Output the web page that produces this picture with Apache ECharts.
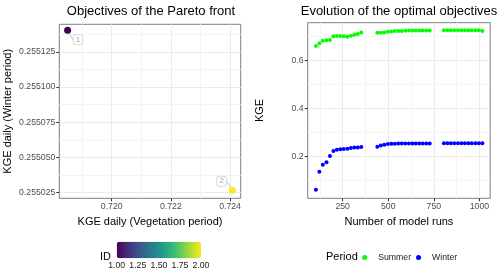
<!DOCTYPE html>
<html><head><meta charset="utf-8">
<script src="https://cdn.jsdelivr.net/npm/echarts@6/dist/echarts.min.js"></script>
<style>html,body{margin:0;padding:0;background:#fff}#c{width:500px;height:275px}</style>
</head><body><div id="c"></div>
<script>
// ---- Left panel: objectives of the Pareto front ----
const paretoIds = [1, 2];
const vegKGE = [0.71851, 0.72408];
const winterKGE = [0.2551402, 0.2550267];
const paretoXTicks = [0.720, 0.722, 0.724];
const paretoXMinor = [0.719, 0.721, 0.723];
const paretoYTicks = [0.255025, 0.255050, 0.255075, 0.255100, 0.255125];
const paretoYMinor = [0.2550375, 0.2550625, 0.2550875, 0.2551125, 0.2551375];
const idTicks = [1.00, 1.25, 1.50, 1.75, 2.00];
const viridis = ['#440154','#482878','#3E4A89','#31688E','#26828E','#1F9E89','#35B779','#6DCD59','#B4DE2C','#FDE725'];

// ---- Right panel: evolution of the optimal objectives ----
const modelRuns = [103,122,141,161,180,199,218,237,256,276,295,314,333,352,
  440,459,478,498,517,536,555,574,593,613,632,651,670,689,708,727,
  805,824,843,862,882,901,920,939,958,978,997,1016];
const summerKGE = [0.660,0.672,0.682,0.684,0.685,0.701,0.702,0.702,0.701,0.699,0.703,0.707,0.710,0.716,
  0.715,0.715,0.716,0.719,0.720,0.722,0.722,0.723,0.724,0.725,0.725,0.725,0.725,0.725,0.725,0.725,
  0.726,0.726,0.726,0.726,0.726,0.726,0.726,0.726,0.726,0.726,0.726,0.722];
const winterEvoKGE = [0.063,0.137,0.166,0.177,0.203,0.224,0.229,0.231,0.232,0.233,0.236,0.238,0.238,0.240,
  0.241,0.246,0.250,0.253,0.254,0.254,0.255,0.255,0.255,0.255,0.255,0.255,0.255,0.255,0.255,0.255,
  0.256,0.256,0.256,0.256,0.256,0.256,0.256,0.256,0.256,0.256,0.256,0.256];
const periods = ['Summer', 'Winter'];
const periodColors = ['#00FF00', '#0000FF'];
const runTicks = [250, 500, 750, 1000];
const runMinor = [125, 375, 625, 875];
const kgeTicks = [0.2, 0.4, 0.6];
const kgeMinor = [0.1, 0.3, 0.5, 0.7];

const FONT = 'Liberation Sans';
const tickTxt = {fontSize: 8.7, color: '#4d4d4d', fontFamily: FONT};
const nameTxt = {fontSize: 11, color: '#000', fontFamily: FONT};

function majorAxis(gi, min, max, ticks, fmt, extra) {
  return Object.assign({
    gridIndex: gi, type: 'value', min: min, max: max,
    axisLine: {show: false},
    axisTick: {show: true, customValues: ticks, length: 3, lineStyle: {color: '#333', width: 1}},
    axisLabel: {customValues: ticks, formatter: fmt, margin: 4, ...tickTxt},
    splitLine: {show: true, lineStyle: {color: '#ebebeb', width: 1}},
    nameLocation: 'middle', nameTextStyle: nameTxt
  }, extra);
}
function minorAxis(gi, min, max, ticks) {
  return {
    gridIndex: gi, type: 'value', min: min, max: max,
    axisLine: {show: false},
    axisTick: {show: false, customValues: ticks},
    axisLabel: {show: false},
    splitLine: {show: true, lineStyle: {color: '#f4f4f4', width: 1}}
  };
}

const paretoData = paretoIds.map((id, i) => [vegKGE[i], winterKGE[i], id]);
const labelOffsets = [[10.5, 9.4], [-10.8, -9.1]];

const option = {
  animation: false,
  textStyle: {fontFamily: FONT},
  title: [
    {text: 'Objectives of the Pareto front', left: 151, top: 5, textAlign: 'center', padding: 0,
     textStyle: {fontSize: 13, fontWeight: 'normal', color: '#000', fontFamily: FONT}},
    {text: 'Evolution of the optimal objectives', left: 399, top: 5, textAlign: 'center', padding: 0,
     textStyle: {fontSize: 13, fontWeight: 'normal', color: '#000', fontFamily: FONT}},
    {text: 'ID', left: 100, top: 251.5, padding: 0,
     textStyle: {fontSize: 11, fontWeight: 'normal', color: '#000', fontFamily: FONT}},
    {text: 'Period', left: 326, top: 251.5, padding: 0,
     textStyle: {fontSize: 11, fontWeight: 'normal', color: '#000', fontFamily: FONT}}
  ],
  grid: [
    {left: 59.3, top: 24.3, width: 181.4, height: 174, show: true, borderColor: '#7f7f7f', borderWidth: 1, backgroundColor: '#fff'},
    {left: 307.7, top: 22.7, width: 182.5, height: 175.6, show: true, borderColor: '#7f7f7f', borderWidth: 1, backgroundColor: '#fff'},
    {left: 116.7, top: 241.7, width: 84.3, height: 16.6, show: false}
  ],
  xAxis: [
    majorAxis(0, 0.71823, 0.72436, paretoXTicks, v => v.toFixed(3),
      {name: 'KGE daily (Vegetation period)', nameGap: 16}),
    minorAxis(0, 0.71823, 0.72436, paretoXMinor),
    majorAxis(1, 58, 1059, runTicks, v => String(Math.round(v)),
      {name: 'Number of model runs', nameGap: 16}),
    minorAxis(1, 58, 1059, runMinor),
    {gridIndex: 2, type: 'value', min: 1, max: 2,
     axisLine: {show: false}, axisTick: {show: false, customValues: idTicks},
     axisLabel: {customValues: idTicks, formatter: v => v.toFixed(2), margin: 3, ...tickTxt, color: '#1a1a1a'},
     splitLine: {show: false}}
  ],
  yAxis: [
    majorAxis(0, 0.255021, 0.2551445, paretoYTicks, v => v.toFixed(6),
      {name: 'KGE daily (Winter period)', nameGap: 46}),
    minorAxis(0, 0.255021, 0.2551445, paretoYMinor),
    majorAxis(1, 0.027, 0.757, kgeTicks, v => v.toFixed(1),
      {name: 'KGE', nameGap: 42}),
    minorAxis(1, 0.027, 0.757, kgeMinor),
    {gridIndex: 2, type: 'value', min: 0, max: 1, show: false}
  ],
  visualMap: {
    type: 'continuous', seriesIndex: 0, dimension: 2, min: 1, max: 2,
    orient: 'horizontal', left: 116.7, top: 241.7, padding: 0,
    itemWidth: 16.6, itemHeight: 84.3, calculable: false, hoverLink: false,
    inRange: {color: viridis}
  },
  legend: {
    data: periods, left: 362.2, top: 253, padding: 0, icon: 'circle',
    itemWidth: 17, itemHeight: 5, itemGap: 5,
    textStyle: {fontSize: 8.7, color: '#1a1a1a', fontFamily: FONT}
  },
  series: [
    {
      type: 'scatter', xAxisIndex: 0, yAxisIndex: 0, data: paretoData, symbolSize: 7,
      itemStyle: {opacity: 1},
      label: {show: true, formatter: p => String(p.value[2]), position: 'inside',
        fontSize: 8, color: '#a0a0a0', backgroundColor: '#fff', borderColor: '#d9d9d9',
        borderWidth: 1, borderRadius: 2, padding: [1, 2, 0, 2], fontFamily: FONT},
      labelLayout: p => ({dx: labelOffsets[p.dataIndex][0], dy: labelOffsets[p.dataIndex][1]}),
      labelLine: {show: true, lineStyle: {color: '#bdbdbd', width: 0.8}}
    },
    {
      name: periods[0], type: 'scatter', xAxisIndex: 2, yAxisIndex: 2, symbolSize: 4,
      itemStyle: {color: periodColors[0], opacity: 1},
      data: modelRuns.map((r, i) => [r, summerKGE[i]])
    },
    {
      name: periods[1], type: 'scatter', xAxisIndex: 2, yAxisIndex: 2, symbolSize: 4,
      itemStyle: {color: periodColors[1], opacity: 1},
      data: modelRuns.map((r, i) => [r, winterEvoKGE[i]])
    }
  ]
};
const chart = echarts.init(document.getElementById('c'), null, {renderer: 'canvas'});
chart.setOption(option);
</script>
</body></html>
